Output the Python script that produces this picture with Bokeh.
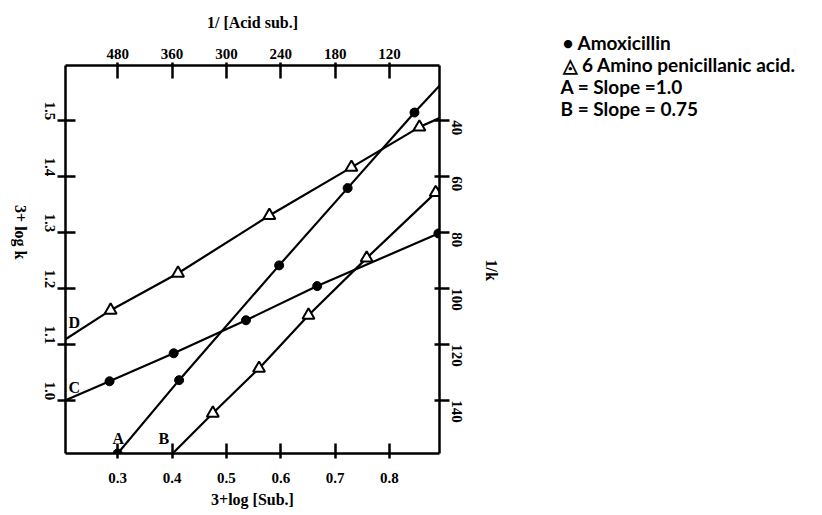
import math
from bokeh.plotting import figure
from bokeh.layouts import row, column
from bokeh.models import LinearAxis, FixedTicker, PrintfTickFormatter, Label
from bokeh.embed import file_html
from bokeh.resources import INLINE

# ---------------- data ----------------
# Amoxicillin, line A (slope 1.0)
amox_a_x = [0.300, 0.413, 0.597, 0.723, 0.846]
amox_a_y = [0.905, 1.036, 1.241, 1.379, 1.514]
line_a_x = [0.300, 0.413, 0.597, 0.723, 0.846, 0.892]
line_a_y = [0.905, 1.036, 1.241, 1.379, 1.514, 1.562]

# Amoxicillin, line C
amox_c_x = [0.285, 0.403, 0.536, 0.667, 0.890]
amox_c_y = [1.034, 1.084, 1.143, 1.204, 1.298]
line_c_x = [0.204, 0.285, 0.403, 0.536, 0.667, 0.890, 0.892]
line_c_y = [1.000, 1.034, 1.084, 1.143, 1.204, 1.298, 1.299]

# 6 Amino penicillanic acid, line D
apa_d_x = [0.287, 0.411, 0.579, 0.730, 0.855]
apa_d_y = [1.161, 1.227, 1.330, 1.416, 1.488]
line_d_x = [0.204, 0.287, 0.411, 0.579, 0.730, 0.855, 0.892]
line_d_y = [1.109, 1.161, 1.227, 1.330, 1.416, 1.488, 1.504]

# 6 Amino penicillanic acid, line B (slope 0.75)
apa_b_x = [0.475, 0.560, 0.651, 0.758, 0.885]
apa_b_y = [0.977, 1.057, 1.152, 1.254, 1.371]
line_b_x = [0.401, 0.475, 0.560, 0.651, 0.758, 0.885, 0.892]
line_b_y = [0.905, 0.977, 1.057, 1.152, 1.254, 1.371, 1.379]

# axes
x_ticks = [0.3, 0.4, 0.5, 0.6, 0.7, 0.8]
top_labels = ["480", "360", "300", "240", "180", "120"]
y_ticks = [1.0, 1.1, 1.2, 1.3, 1.4, 1.5]
right_labels = ["140", "120", "100", "80", "60", "40"]

line_labels = ["A", "B", "C", "D"]
legend_lines = ["\u2022  Amoxicillin", "\u25EC  6 Amino penicillanic acid.",
                "A  = Slope =1.0", "B  = Slope = 0.75"]

X0, X1 = 0.204, 0.892
Y0, Y1 = 0.905, 1.598

W1, W2, H = 520, 302, 515
ML, MT, MB = 65, 65, 62
FW = 439 - ML
MR = W1 - ML - FW
FH = H - MT - MB


def dx(page_x):
    return X0 + (page_x - ML) * (X1 - X0) / FW


def dy(page_y):
    return Y1 - (page_y - MT) * (Y1 - Y0) / FH


p = figure(width=W1, height=H, x_range=(X0, X1), y_range=(Y0, Y1),
           output_backend="svg", toolbar_location=None,
           x_axis_location=None, y_axis_location=None,
           min_border_left=ML, min_border_right=MR,
           min_border_top=MT, min_border_bottom=MB)
p.grid.visible = False
p.outline_line_color = None
p.background_fill_color = "white"
p.border_fill_color = "white"

SERIF = "Liberation Serif"


def style_axis(ax, tin, tout, standoff):
    ax.axis_line_width = 2.5
    ax.axis_line_color = "black"
    ax.major_tick_line_width = 2.5
    ax.major_tick_line_color = "black"
    ax.major_tick_in = tin
    ax.major_tick_out = tout
    ax.minor_tick_line_color = None
    ax.major_label_text_font = SERIF
    ax.major_label_text_font_style = "bold"
    ax.major_label_text_font_size = "15px"
    ax.major_label_text_color = "black"
    ax.major_label_standoff = standoff
    ax.axis_label_text_font = SERIF
    ax.axis_label_text_font_style = "bold"
    ax.axis_label_text_font_size = "16px"
    ax.axis_label_text_color = "black"


bottom = LinearAxis(ticker=FixedTicker(ticks=x_ticks),
                    formatter=PrintfTickFormatter(format="%.1f"),
                    axis_label="3+log [Sub.]")
style_axis(bottom, 10, 5, 14)
bottom.axis_label_standoff = 5
p.add_layout(bottom, "below")

top = LinearAxis(ticker=FixedTicker(ticks=x_ticks),
                 major_label_overrides={t: s for t, s in zip(x_ticks, top_labels)},
                 axis_label="1/ [Acid sub.]")
style_axis(top, 13, 3, 4)
top.axis_label_standoff = 15
p.add_layout(top, "above")

left = LinearAxis(ticker=FixedTicker(ticks=y_ticks),
                  formatter=PrintfTickFormatter(format="%.1f"),
                  axis_label="3+ log k")
style_axis(left, 10, 8, 8)
left.major_label_orientation = -math.pi / 2
left.axis_label_standoff = 16
p.add_layout(left, "left")

right = LinearAxis(ticker=FixedTicker(ticks=y_ticks),
                   major_label_overrides={t: s for t, s in zip(y_ticks, right_labels)},
                   axis_label="1/k")
style_axis(right, 5, 10, 7)
right.major_label_orientation = -math.pi / 2
right.axis_label_standoff = 22
p.add_layout(right, "right")

for ax in (left, right):
    try:
        ax.axis_label_orientation = -math.pi / 2
    except Exception:
        pass

# lines
for lx, ly in [(line_a_x, line_a_y), (line_c_x, line_c_y),
               (line_d_x, line_d_y), (line_b_x, line_b_y)]:
    p.line(lx, ly, line_color="black", line_width=2.2)

# markers
p.scatter(amox_a_x, amox_a_y, marker="circle", size=9, fill_color="black", line_color="black")
p.scatter(amox_c_x, amox_c_y, marker="circle", size=9, fill_color="black", line_color="black")
p.scatter(apa_d_x, apa_d_y, marker="triangle", size=12, fill_color="white",
          line_color="black", line_width=2)
p.scatter(apa_b_x, apa_b_y, marker="triangle", size=12, fill_color="white",
          line_color="black", line_width=2)

# line letters
letter_pos = [(112, 438), (158, 438), (68, 387), (68, 322)]
for t, (px_, py_) in zip(line_labels, letter_pos):
    p.add_layout(Label(x=dx(px_), y=dy(py_), text=t, text_font=SERIF,
                       text_font_style="bold", text_font_size="16px",
                       text_color="black", text_baseline="alphabetic"))

# legend panel (second figure, pixel-like units, top-down y)
p2 = figure(width=W2, height=H, x_range=(W1, W1 + W2), y_range=(H, 0),
            output_backend="svg", toolbar_location=None,
            x_axis_location=None, y_axis_location=None,
            min_border=0)
p2.grid.visible = False
p2.outline_line_color = None
p2.background_fill_color = "white"
p2.border_fill_color = "white"

legend_pos = [(562, 42), (562, 64), (560, 86), (560, 108)]
for t, (px_, py_) in zip(legend_lines, legend_pos):
    p2.add_layout(Label(x=px_, y=py_, text=t, text_font="Lato",
                        text_font_style="bold", text_font_size="19px",
                        text_baseline="middle", text_color="black"))

layout = row(p, column(p2))
open("out.html", "w").write(file_html(layout, INLINE))
